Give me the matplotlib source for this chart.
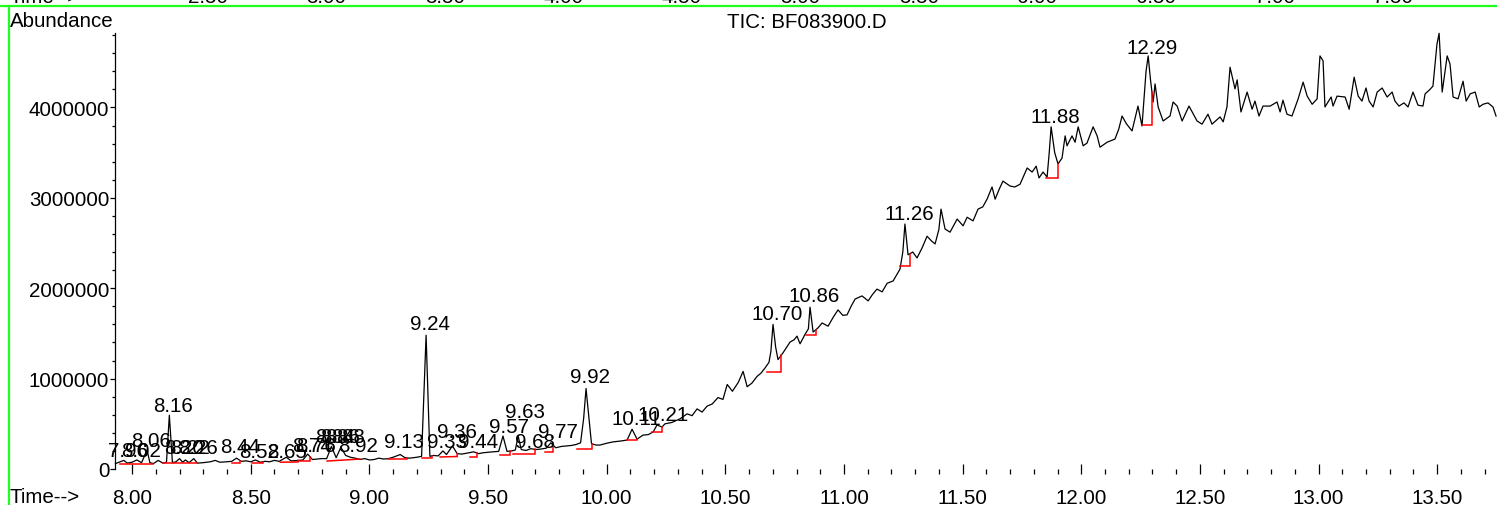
import numpy as np
import matplotlib
matplotlib.use("Agg")
import matplotlib.pyplot as plt
from matplotlib.lines import Line2D
from matplotlib.ticker import MultipleLocator, FuncFormatter

plt.rcParams['font.family'] = ['Liberation Sans', 'DejaVu Sans']

# ---------------- data ----------------
# retention time (min)
rt = [7.930, 7.950, 7.965, 7.980, 8.000, 8.020, 8.040, 8.063, 8.075, 8.090,
      8.110, 8.130, 8.145, 8.157, 8.170, 8.185, 8.200, 8.213, 8.225, 8.240,
      8.260, 8.275, 8.300, 8.330, 8.350, 8.370, 8.400, 8.420, 8.440, 8.460,
      8.480, 8.500, 8.520, 8.540, 8.560, 8.580, 8.600, 8.620, 8.650, 8.670,
      8.700, 8.720, 8.740, 8.760, 8.780, 8.800, 8.820, 8.840, 8.860, 8.880,
      8.900, 8.920, 8.940, 8.960, 8.980, 9.000, 9.020, 9.040, 9.060, 9.080,
      9.100, 9.130, 9.150, 9.170, 9.200, 9.220, 9.239, 9.255, 9.270, 9.290,
      9.310, 9.325, 9.350, 9.370, 9.390, 9.410, 9.440, 9.460, 9.480, 9.500,
      9.520, 9.545, 9.563, 9.580, 9.600, 9.615, 9.627, 9.640, 9.660, 9.680,
      9.700, 9.720, 9.745, 9.765, 9.785, 9.810, 9.830, 9.850, 9.870, 9.890,
      9.903, 9.913, 9.924, 9.936, 9.955, 9.972, 10.000, 10.027, 10.060, 10.086,
      10.107, 10.128, 10.153, 10.175, 10.196, 10.212, 10.233, 10.246, 10.275, 10.309,
      10.339, 10.360, 10.381, 10.402, 10.423, 10.445, 10.469, 10.490, 10.508, 10.530,
      10.555, 10.575, 10.592, 10.612, 10.634, 10.650, 10.668, 10.684, 10.692, 10.701,
      10.712, 10.722, 10.743, 10.773, 10.790, 10.802, 10.815, 10.836, 10.850, 10.857,
      10.870, 10.890, 10.908, 10.933, 10.955, 10.975, 10.995, 11.013, 11.030, 11.047,
      11.076, 11.102, 11.120, 11.139, 11.161, 11.182, 11.207, 11.236, 11.248, 11.257,
      11.270, 11.290, 11.308, 11.330, 11.350, 11.370, 11.384, 11.400, 11.409, 11.426,
      11.447, 11.477, 11.502, 11.519, 11.544, 11.565, 11.585, 11.603, 11.624, 11.637,
      11.655, 11.670, 11.700, 11.720, 11.742, 11.772, 11.793, 11.810, 11.822, 11.839,
      11.856, 11.865, 11.873, 11.888, 11.902, 11.919, 11.932, 11.940, 11.961, 11.974,
      11.987, 12.008, 12.024, 12.050, 12.067, 12.079, 12.095, 12.109, 12.142, 12.158,
      12.172, 12.190, 12.214, 12.239, 12.256, 12.273, 12.282, 12.292, 12.303, 12.311,
      12.324, 12.345, 12.374, 12.387, 12.404, 12.425, 12.454, 12.488, 12.509, 12.534,
      12.551, 12.585, 12.598, 12.614, 12.627, 12.648, 12.657, 12.673, 12.699, 12.720,
      12.732, 12.749, 12.766, 12.796, 12.825, 12.838, 12.850, 12.867, 12.888, 12.914,
      12.935, 12.952, 12.973, 12.994, 13.006, 13.019, 13.027, 13.040, 13.053, 13.061,
      13.078, 13.112, 13.129, 13.150, 13.167, 13.183, 13.200, 13.213, 13.230, 13.247,
      13.268, 13.289, 13.310, 13.322, 13.339, 13.360, 13.377, 13.398, 13.419, 13.440,
      13.449, 13.466, 13.482, 13.499, 13.508, 13.521, 13.542, 13.554, 13.567, 13.588,
      13.609, 13.622, 13.639, 13.660, 13.677, 13.693, 13.714, 13.735, 13.748]

# abundance in thousands
abundance_k = [60, 80, 95, 65, 75, 100, 70, 210, 70, 60,
               95, 65, 75, 595, 70, 80, 115, 75, 100, 70,
               115, 65, 70, 80, 95, 75, 80, 85, 120, 85,
               90, 80, 100, 75, 85, 80, 95, 85, 130, 90,
               95, 100, 165, 105, 110, 115, 115, 250, 125, 240,
               150, 130, 120, 105, 115, 100, 105, 120, 110, 115,
               130, 160, 125, 120, 130, 140, 1480, 140, 150, 145,
               200, 160, 255, 170, 165, 175, 190, 170, 180, 185,
               190, 195, 365, 195, 200, 210, 365, 215, 205, 225,
               215, 220, 230, 290, 235, 250, 255, 260, 270, 290,
               560, 890, 600, 280, 265, 265, 285, 300, 310, 320,
               440, 330, 375, 380, 410, 487, 465, 500, 515, 555,
               610, 590, 665, 630, 695, 720, 790, 770, 935, 860,
               960, 1080, 910, 950, 1025, 1060, 1120, 1180, 1300, 1600,
               1350, 1210, 1285, 1405, 1430, 1470, 1385, 1490, 1550, 1790,
               1515, 1560, 1615, 1580, 1680, 1760, 1700, 1705, 1800, 1880,
               1915, 1860, 1930, 1990, 1960, 2055, 2080, 2210, 2400, 2710,
               2370, 2400, 2335, 2450, 2575, 2520, 2490, 2650, 2875, 2655,
               2620, 2765, 2690, 2785, 2745, 2875, 2900, 2985, 3120, 2985,
               3100, 3185, 3130, 3120, 3150, 3330, 3285, 3350, 3220, 3285,
               3230, 3500, 3785, 3500, 3375, 3440, 3685, 3575, 3685, 3615,
               3785, 3575, 3605, 3785, 3685, 3560, 3590, 3615, 3650, 3760,
               3905, 3820, 3740, 4015, 3795, 4400, 4570, 4300, 4060, 4260,
               4005, 3850, 3905, 4060, 4015, 3850, 4015, 3850, 3815, 3925,
               3815, 3895, 3840, 4005, 4445, 4205, 4305, 3950, 4170, 3980,
               4070, 3905, 4015, 4015, 4060, 3950, 4080, 3925, 3905, 4095,
               4280, 4125, 4035, 4095, 4570, 4515, 4005, 4060, 4115, 4015,
               4125, 4115, 3980, 4335, 4125, 4070, 4215, 4070, 4005, 4170,
               4215, 4115, 4170, 4070, 4015, 4050, 4005, 4170, 4025, 4015,
               4150, 4190, 4235, 4700, 4820, 4170, 4570, 4480, 4115, 4095,
               4290, 4070, 4150, 4170, 4005, 4035, 4050, 4005, 3905]

# peak labels: text, retention time, label height (thousands)
peak_text = ["7.96", "8.02", "8.06", "8.16", "8.20", "8.22", "8.26", "8.44",
             "8.52", "8.65", "8.74", "8.76", "8.84", "8.86", "8.88", "8.92",
             "9.13", "9.24", "9.33", "9.36", "9.44", "9.57", "9.63", "9.68",
             "9.77", "9.92", "10.11", "10.21", "10.70", "10.86", "11.26",
             "11.88", "12.29"]
peak_rt = [7.965, 8.020, 8.063, 8.157, 8.200, 8.225, 8.260, 8.440,
           8.520, 8.635, 8.740, 8.760, 8.840, 8.860, 8.880, 8.935,
           9.130, 9.239, 9.310, 9.350, 9.440, 9.573, 9.640, 9.680,
           9.778, 9.913, 10.107, 10.220, 10.701, 10.857, 11.257,
           11.873, 12.282]
peak_height_k = [100, 100, 210, 597, 133, 133, 133, 144,
                 88, 88, 155, 155, 254, 254, 254, 155,
                 199, 1500, 199, 310, 200, 365, 531, 200,
                 310, 918, 453, 498, 1615, 1814, 2721,
                 3794, 4557]

# integration baselines: start time, end time, start level, end level (thousands)
base_start = [7.950, 8.130, 8.420, 8.505, 8.625, 8.708, 8.822, 9.080, 9.222, 9.298,
              9.424, 9.551, 9.606, 9.740, 9.875, 10.086, 10.191, 10.676, 10.840,
              11.236, 11.852, 12.260]
base_end = [8.090, 8.275, 8.455, 8.550, 8.700, 8.750, 8.960, 9.160, 9.264, 9.370,
            9.454, 9.593, 9.698, 9.774, 9.939, 10.128, 10.233, 10.735, 10.882,
            11.279, 11.902, 12.298]
base_lev0_k = [55, 65, 70, 65, 75, 88, 88, 110, 122, 133,
               138, 155, 166, 188, 221, 321, 409, 1073, 1482,
               2246, 3219, 3805]
base_lev1_k = [55, 65, 70, 65, 78, 88, 110, 110, 122, 138,
               138, 155, 166, 188, 221, 321, 409, 1073, 1482,
               2246, 3219, 3805]

x_ticks = [8.0, 8.5, 9.0, 9.5, 10.0, 10.5, 11.0, 11.5, 12.0, 12.5, 13.0, 13.5]
y_ticks = [0, 1000000, 2000000, 3000000, 4000000]
prev_axis_labels = ["2.50", "3.00", "3.50", "4.00", "4.50", "5.00", "5.50",
                    "6.00", "6.50", "7.00", "7.50"]

# ---------------- figure ----------------
W, H = 1497, 506
FS = 14.8
fig = plt.figure(figsize=(W / 100, H / 100), dpi=100)
fig.patch.set_facecolor('white')

x0, x1 = 115, 1497
y_top, y_bot = 34.3, 470
ax = fig.add_axes([x0 / W, (H - y_bot) / H, (x1 - x0) / W, (y_bot - y_top) / H])
ax.set_xlim(7.928, 13.752)
ax.set_ylim(0, 4820000)

t = np.array(rt)
a = np.array(abundance_k) * 1000.0
ax.plot(t, a, color='black', lw=0.9, clip_on=False, zorder=3)

for s, e, b0, b1 in zip(base_start, base_end, base_lev0_k, base_lev1_k):
    top_end = max(np.interp(e, t, a), b1 * 1000.0)
    ax.plot([s, e, e], [b0 * 1000.0, b1 * 1000.0, top_end],
            color='#ff0000', lw=1.1, zorder=4, solid_joinstyle='miter')

for txt, r, h in zip(peak_text, peak_rt, peak_height_k):
    ax.annotate(txt, xy=(r, h * 1000.0), xytext=(2.9, 2.9), textcoords='offset points',
                ha='center', va='baseline', fontsize=FS, color='black', zorder=5)

for side in ['top', 'right', 'bottom']:
    ax.spines[side].set_visible(False)
ax.spines['left'].set_linewidth(0.9)
ax.patch.set_alpha(0)

ax.set_xticks(x_ticks)
ax.xaxis.set_minor_locator(MultipleLocator(0.1))
ax.xaxis.set_major_formatter(FuncFormatter(lambda v, p: f"{v:.2f}"))
ax.set_yticks(y_ticks)
ax.yaxis.set_minor_locator(MultipleLocator(200000))
ax.yaxis.set_major_formatter(FuncFormatter(lambda v, p: f"{int(round(v))}"))
ax.tick_params(axis='x', which='major', direction='inout', length=7.2, width=0.9,
               labelsize=FS, pad=10)
ax.tick_params(axis='x', which='minor', direction='out', length=3.6, width=0.9)
ax.tick_params(axis='y', which='major', direction='out', length=3.6, width=0.9,
               labelsize=FS, pad=0.5)
ax.tick_params(axis='y', which='minor', direction='out', length=2.2, width=0.9)

# texts
fig.text(10 / W, 1 - 27 / H, "Abundance", ha='left', va='baseline', fontsize=FS)
fig.text(807 / W, 1 - 28 / H, "TIC: BF083900.D", ha='center', va='baseline', fontsize=FS)
fig.text(10 / W, 1 - 503 / H, "Time-->", ha='left', va='baseline', fontsize=FS)

# clipped remainder of the preceding panel at the top
fig.text(10 / W, 1 - 3 / H, "Time-->", ha='left', va='baseline', fontsize=FS)
for i, lab in enumerate(prev_axis_labels):
    fig.text((208 + 118.5 * i) / W, 1 - 3 / H, lab, ha='center', va='baseline', fontsize=FS)

# green frame lines
fig.add_artist(Line2D([0, 1], [1 - 6.5 / H, 1 - 6.5 / H], transform=fig.transFigure,
                      color='#1eff1e', lw=1.6))
fig.add_artist(Line2D([8.5 / W, 8.5 / W], [0, 1 - 6.5 / H], transform=fig.transFigure,
                      color='#1eff1e', lw=1.6))

fig.savefig("out.png", dpi=100, facecolor='white')
